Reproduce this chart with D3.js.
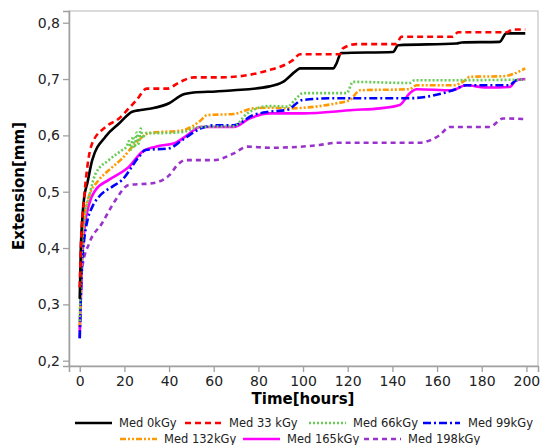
<!DOCTYPE html>
<html><head><meta charset="utf-8">
<script src="https://cdn.jsdelivr.net/npm/d3@7"></script>
<style>body{margin:0;background:#fff}svg{display:block}</style>
</head><body>
<svg id="c" width="540" height="445"></svg>
<script>
const seriesNames = ["Med 0kGy","Med 33 kGy","Med 66kGy","Med 99kGy","Med 132kGy","Med 165kGy","Med 198kGy"];
const colors = ["#000000","#ff0000","#66cc55","#0000ff","#ff9900","#ff00ff","#9933cc"];
const dashes = [null,"6,4","2,2","8,3,2,3","6,2,2,2,2,2",null,"5,4"];
const xTicks = [0,20,40,60,80,100,120,140,160,180,200];
const yTicks = [0.2,0.3,0.4,0.5,0.6,0.7,0.8];

const s0 = [[0,0.31],[0.5,0.40],[1.2,0.455],[2,0.49],[3.4,0.515],[5.6,0.556],[11.6,0.598],[17.6,0.621],[23.5,0.642],[27.3,0.645],[32.5,0.648],[40,0.657],[46,0.672],[51,0.676],[61,0.678],[69,0.680],[85,0.687],[91,0.695],[97,0.715],[98.6,0.719],[113.5,0.719],[115,0.728],[117,0.746],[140.3,0.748],[142.6,0.760],[168.7,0.763],[171,0.765],[188,0.766],[191,0.781],[199.5,0.781]];
const s1 = [[0,0.33],[0.5,0.40],[1.9,0.485],[3.4,0.544],[5.6,0.586],[11.6,0.615],[17.6,0.630],[22,0.648],[25.5,0.663],[30,0.683],[39,0.683],[45,0.695],[51,0.703],[63,0.703],[85,0.716],[95.6,0.734],[98.6,0.744],[116.5,0.744],[118,0.755],[124,0.762],[141.8,0.762],[144,0.775],[167,0.775],[169.4,0.783],[191,0.783],[194,0.788],[199.5,0.788]];
const s2 = [[0,0.27],[1,0.40],[2,0.45],[4.2,0.491],[7.1,0.532],[13,0.556],[19,0.574],[21,0.580],[22,0.59],[23,0.575],[23.8,0.598],[24.6,0.578],[25.5,0.605],[26.4,0.585],[27.3,0.612],[28.2,0.595],[29.5,0.604],[36,0.604],[46,0.606],[54,0.615],[69,0.616],[75,0.639],[85,0.652],[93,0.651],[97,0.666],[100,0.675],[119.5,0.675],[122.4,0.695],[147.8,0.693],[150,0.698],[170,0.698],[199.5,0.699]];
const s3 = [[0,0.24],[1,0.37],[2,0.415],[3.5,0.45],[5.6,0.473],[8.6,0.491],[14.6,0.509],[19,0.521],[26.5,0.562],[29.5,0.574],[40,0.577],[46,0.592],[54,0.612],[60.6,0.618],[69,0.618],[77.7,0.636],[85,0.642],[92.6,0.645],[100,0.663],[115,0.666],[147.8,0.666],[159.7,0.672],[167,0.680],[173,0.689],[192.5,0.689],[195.5,0.698],[199.5,0.699]];
const s4 = [[0,0.26],[1,0.40],[2,0.45],[4,0.49],[8.6,0.521],[13,0.538],[19,0.559],[25,0.586],[31,0.604],[46,0.609],[54,0.626],[57,0.636],[69,0.638],[77.7,0.648],[85,0.649],[94,0.648],[107.5,0.652],[115,0.657],[121,0.663],[125.5,0.680],[147.8,0.682],[150.8,0.689],[167,0.689],[173,0.699],[174.5,0.704],[189.5,0.705],[199.5,0.719]];
const s5 = [[0,0.25],[1,0.37],[2,0.43],[4,0.475],[7.1,0.503],[13,0.521],[22,0.544],[28,0.571],[34,0.580],[43,0.587],[48,0.600],[54,0.615],[69,0.615],[76,0.630],[85,0.639],[100,0.639],[122.4,0.645],[134.4,0.648],[143.3,0.654],[147.8,0.675],[150.8,0.682],[166.5,0.680],[173,0.689],[182,0.685],[192.5,0.686],[195.5,0.698],[199.5,0.700]];
const s6 = [[0,0.24],[0.5,0.33],[1.2,0.367],[4.2,0.408],[10,0.444],[16,0.485],[22,0.512],[32.5,0.515],[40,0.529],[44.4,0.550],[47,0.556],[60,0.556],[69,0.568],[75,0.580],[85,0.578],[107.5,0.583],[115,0.587],[152,0.587],[161,0.600],[165.7,0.615],[183.6,0.615],[189.5,0.630],[199.5,0.629]];
const allSeries = [s0,s1,s2,s3,s4,s5,s6];

const svg = d3.select("#c");
const L=69, R=538, T=11, B=366;
const x = d3.scaleLinear().domain([-4.8,205.2]).range([L,R]);
const y = d3.scaleLinear().domain([0.1906,0.8208]).range([B,T]);
const font = "DejaVu Sans, Verdana, sans-serif";
const grey = "#a0a0a0";

svg.append("clipPath").attr("id","clip").append("rect").attr("x",L).attr("y",T).attr("width",R-L).attr("height",B-T);

svg.append("rect").attr("x",L).attr("y",T).attr("width",R-L).attr("height",B-T)
  .attr("fill","none").attr("stroke","#c8c8c8").attr("stroke-width",1.3);

const fmt = d => d3.format(".1f")(d).replace(".",",");
const ya = d3.axisLeft(y).tickValues(yTicks).tickSize(6).tickPadding(3).tickFormat(fmt);
const gy = svg.append("g").attr("transform",`translate(${L},0)`).call(ya);
const xa = d3.axisBottom(x).tickValues(xTicks).tickSize(6).tickPadding(4).tickFormat(d3.format("d"));
const gx = svg.append("g").attr("transform",`translate(0,${B})`).call(xa);
[gx,gy].forEach(g=>{
  g.selectAll("path.domain").attr("stroke",grey).attr("stroke-width",1.5);
  g.selectAll(".tick line").attr("stroke",grey).attr("stroke-width",1.3);
  g.selectAll("text").attr("font-family",font).attr("font-size",14).attr("fill","#222");
});

const line = d3.line().x(d=>x(d[0])).y(d=>y(d[1])).curve(d3.curveMonotoneX);
const gl = svg.append("g").attr("clip-path","url(#clip)");
const order = [6,5,4,3,2,0,1];
order.forEach(i=>{
  gl.append("path").datum(allSeries[i]).attr("d",line).attr("fill","none")
    .attr("stroke",colors[i]).attr("stroke-width",2.6)
    .attr("stroke-dasharray",dashes[i]).attr("stroke-linejoin","round");
});

svg.append("text").attr("x",303).attr("y",404).attr("text-anchor","middle")
  .attr("font-family",font).attr("font-weight","bold").attr("font-size",15).text("Time[hours]");
svg.append("text").attr("transform","translate(24,186) rotate(-90)").attr("text-anchor","middle")
  .attr("font-family",font).attr("font-weight","bold").attr("font-size",15).text("Extension[mm]");

const legPos = [[75,423],[185,423],[309,423],[423,423],[120,439],[243,439],[364,439]];
seriesNames.forEach((n,i)=>{
  const [lx,ly]=legPos[i];
  svg.append("line").attr("x1",lx).attr("x2",lx+37).attr("y1",ly).attr("y2",ly)
    .attr("stroke",colors[i]).attr("stroke-width",2.6).attr("stroke-dasharray",dashes[i]);
  svg.append("text").attr("x",i===3?468:lx+44).attr("y",ly).attr("dy","0.35em")
    .attr("font-family",font).attr("font-size",11.5).attr("fill","#222").text(n);
});
</script>
</body></html>
